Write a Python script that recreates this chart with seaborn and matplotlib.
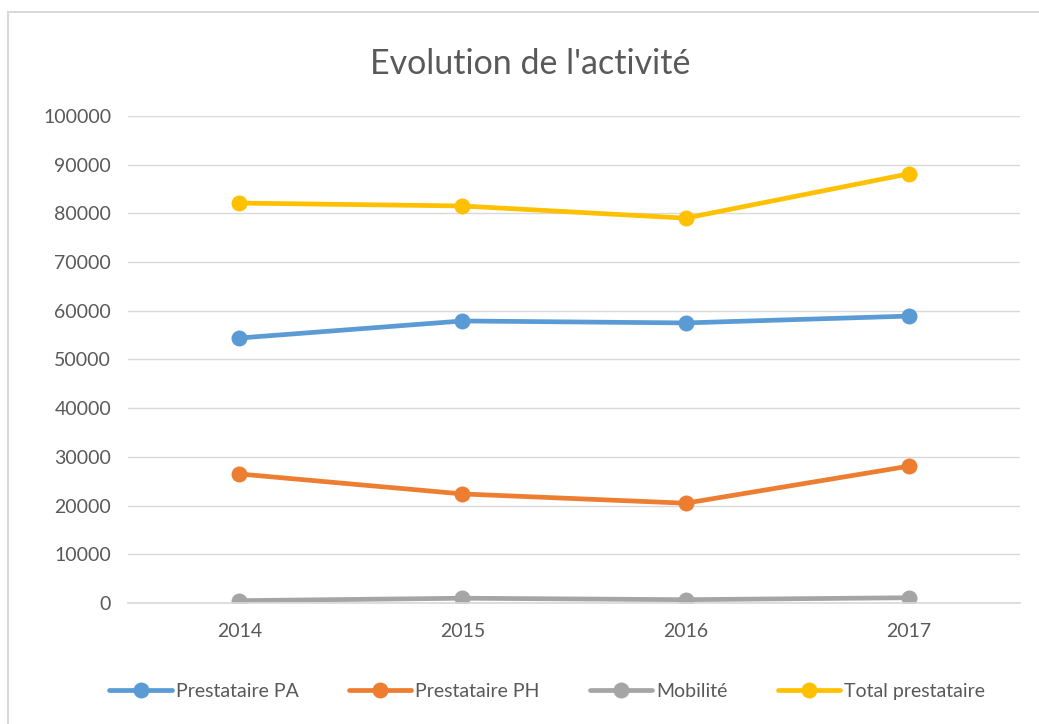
import pandas as pd
import matplotlib
matplotlib.use("Agg")
import matplotlib.pyplot as plt
import seaborn as sns
from matplotlib.patches import Rectangle

# Data
years = ["2014", "2015", "2016", "2017"]
prestataire_pa = [54400, 57900, 57500, 58900]
prestataire_ph = [26500, 22400, 20500, 28100]
mobilite = [500, 1000, 700, 1100]
total_prestataire = [82100, 81500, 79000, 88100]

series_names = ["Prestataire PA", "Prestataire PH", "Mobilité", "Total prestataire"]
colors = ["#5B9BD5", "#ED7D31", "#A5A5A5", "#FFC000"]

rows = []
for name, vals in zip(series_names, [prestataire_pa, prestataire_ph, mobilite, total_prestataire]):
    for y, v in zip(years, vals):
        rows.append({"year": y, "value": v, "serie": name})
df = pd.DataFrame(rows)

sns.set_theme(style="white")
plt.rcParams["font.family"] = ["Lato", "DejaVu Sans"]

fig = plt.figure(figsize=(10.39, 7.24), dpi=100)
ax = fig.add_axes([0.123, 0.167, 0.859, 0.673])

# chart border like Excel (right and bottom edges fall outside the picture)
fig.patches.append(Rectangle((8 / 1039, -0.1), 1.2, 1.1 - 12 / 724, transform=fig.transFigure,
                             fill=False, edgecolor="#D9D9D9", linewidth=1.5))

sns.lineplot(data=df, x="year", y="value", hue="serie", palette=colors,
             marker="o", markersize=11.5, markeredgewidth=0, linewidth=3.4,
             sort=False, ax=ax)

ax.set_ylim(0, 100000)
ax.set_yticks(range(0, 100001, 10000))
ax.set_xlim(-0.5, 3.5)
ax.yaxis.grid(True, color="#D9D9D9", linewidth=1)
ax.set_axisbelow(True)
for s in ["top", "right", "left"]:
    ax.spines[s].set_visible(False)
ax.spines["bottom"].set_color("#D9D9D9")
ax.tick_params(axis="both", colors="#595959", labelsize=14, length=0, pad=12)
ax.tick_params(axis="x", pad=14)
ax.set_xlabel("")
ax.set_ylabel("")

fig.text(0.51, 0.912, "Evolution de l'activité", ha="center", va="center",
         fontsize=24.5, color="#595959")

handles, labels = ax.get_legend_handles_labels()
ax.legend(handles, labels, loc="center", bbox_to_anchor=(0.47, -0.181), ncol=4,
          frameon=False, fontsize=14, labelcolor="#595959",
          handlelength=3.2, handletextpad=0.2, columnspacing=2.6)

fig.savefig("out.png", dpi=100, facecolor="white")
